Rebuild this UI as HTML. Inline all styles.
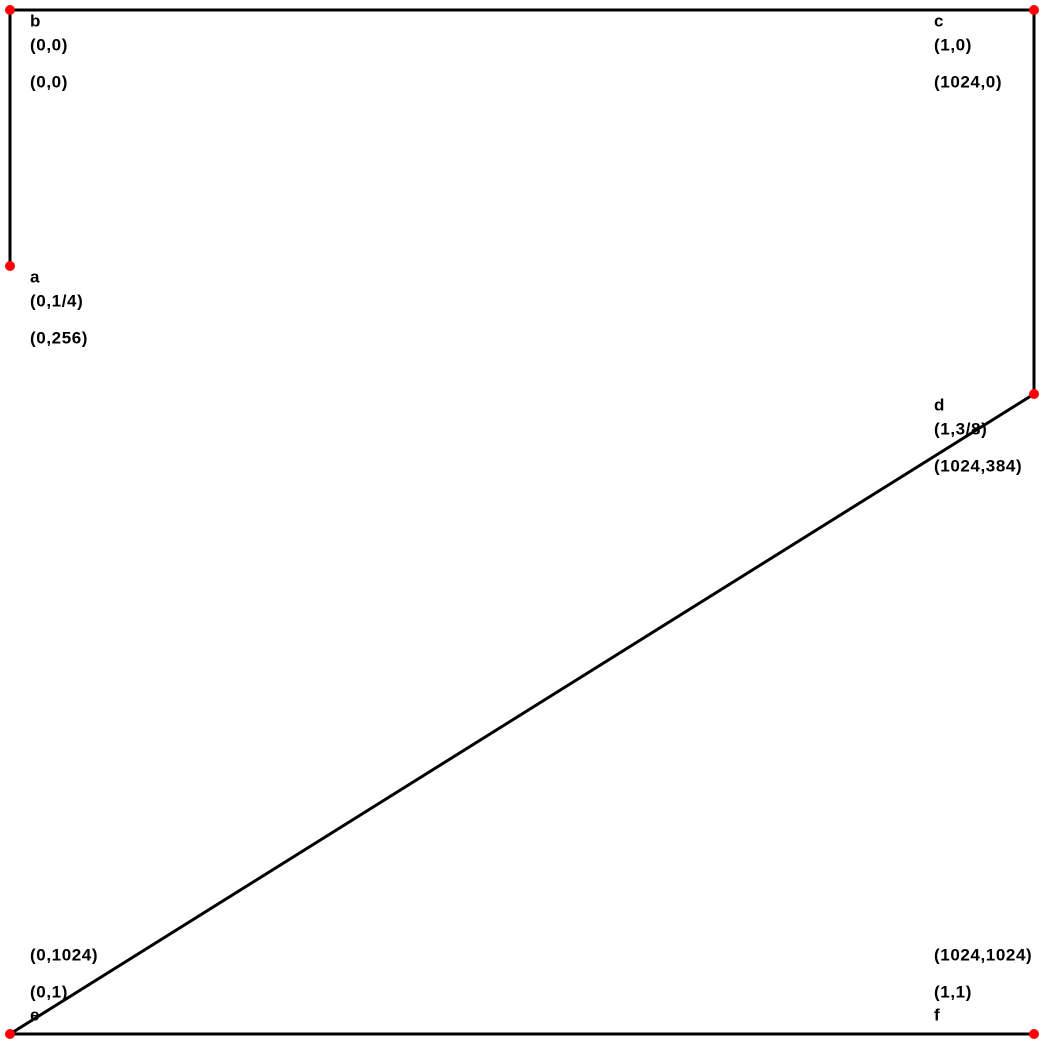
<!DOCTYPE html>
<html><head><meta charset="utf-8"><style>
html,body{margin:0;padding:0;background:#fff;}
svg text{font-family:"Liberation Sans",sans-serif;font-weight:bold;font-size:17px;letter-spacing:0.6px;fill:#000;dominant-baseline:middle;}
</style></head><body>
<svg id="chart" width="1044" height="1044" viewBox="0 0 1044 1044" xmlns="http://www.w3.org/2000/svg"></svg>
<script>
const names = ["a","b","c","d","e","f"];
const xs = [0,0,1,1,0,1];
const ys = [0.25,0,0,0.375,1,1];
const fracX = ["0","0","1","1","0","1"];
const fracY = ["1/4","0","0","3/8","1","1"];
const pathOrder = [0,1,2,3,4,5];
const SIZE = 1024;
const sx = v => 10 + v*SIZE;
const sy = v => 10 + v*SIZE;
const svg = document.getElementById('chart');
const NS = "http://www.w3.org/2000/svg";
const pl = document.createElementNS(NS,'polyline');
pl.setAttribute('points', pathOrder.map(i=>sx(xs[i])+','+sy(ys[i])).join(' '));
pl.setAttribute('fill','none');pl.setAttribute('stroke','#000');pl.setAttribute('stroke-width','3');


svg.appendChild(pl);
function txt(x,y,s,n){const t=document.createElementNS(NS,'text');t.setAttribute('x',x);t.setAttribute('y',y);t.textContent=s;


svg.appendChild(t);}
names.forEach((nm,i)=>{
  const px=sx(xs[i]), py=sy(ys[i]);
  const c=document.createElementNS(NS,'circle');c.setAttribute('cx',px);c.setAttribute('cy',py);c.setAttribute('r',5);c.setAttribute('fill','#f00');
  
  
  svg.appendChild(c);
  const tx = xs[i]===0 ? 30 : 934;
  const pix = '('+Math.round(xs[i]*SIZE)+','+Math.round(ys[i]*SIZE)+')';
  const fr = '('+fracX[i]+','+fracY[i]+')';
  if(ys[i]>=1){
    txt(tx,py-18,nm,'label-'+nm);
    txt(tx,py-41,fr,'frac-coord-'+nm);
    txt(tx,py-78,pix,'pixel-coord-'+nm);
  } else {
    txt(tx,py+12,nm,'label-'+nm);
    txt(tx,py+36,fr,'frac-coord-'+nm);
    txt(tx,py+73,pix,'pixel-coord-'+nm);
  }
});
</script>
</body></html>
